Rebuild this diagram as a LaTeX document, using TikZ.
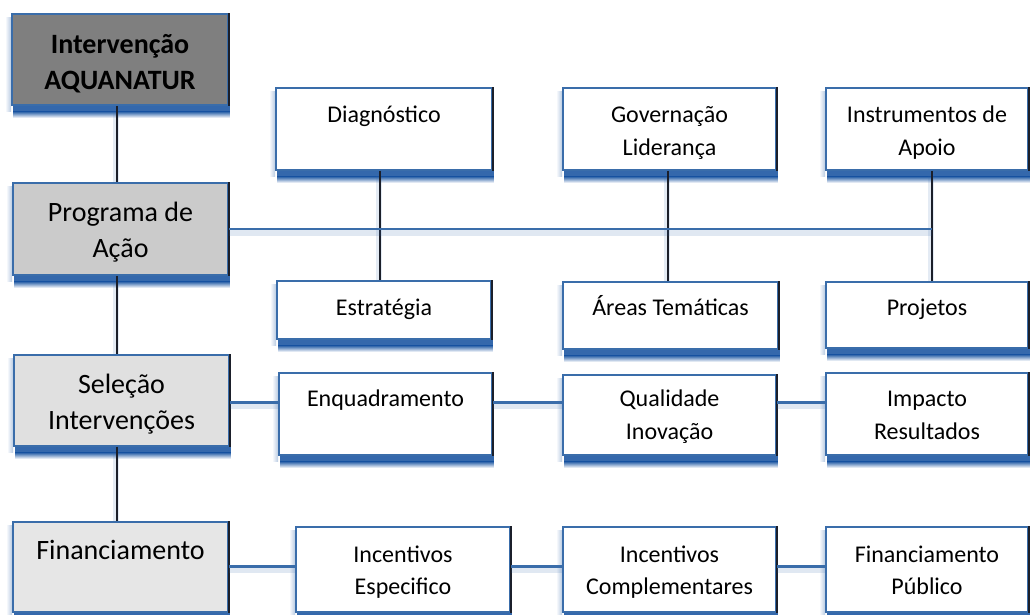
\documentclass[tikz,border=0pt]{standalone}
\usepackage{fontspec}
\setmainfont{Carlito}
\usetikzlibrary{backgrounds}
\definecolor{bblue}{HTML}{3A6DAA}
\definecolor{sblue}{HTML}{3468AC}
\definecolor{darkln}{HTML}{1B1F2A}
\definecolor{gA}{HTML}{7F7F7F}
\definecolor{gB}{HTML}{CBCBCB}
\definecolor{gC}{HTML}{E0E0E0}
\definecolor{gD}{HTML}{E6E6E6}
\begin{document}
\begin{tikzpicture}[x=1pt,y=-1pt,
  box/.style={draw=bblue, line width=1.8pt, fill=white, inner sep=0pt},
  rt/.style={anchor=base, inner sep=0pt, font=\fontsize{24}{33}\selectfont},
  lt/.style={anchor=base, inner sep=0pt, font=\fontsize{28}{36}\selectfont},
  bt/.style={anchor=base, inner sep=0pt, font=\fontsize{28}{36}\selectfont\bfseries},
  vline/.style={draw=darkln, line width=2.4pt,
    preaction={draw=sblue, line width=6pt, opacity=0.13, transform canvas={xshift=-1pt}}},
  hline/.style={draw=bblue, line width=2.4pt,
    preaction={draw=sblue, line width=7pt, opacity=0.15, transform canvas={yshift=-3pt}}}]
\useasboundingbox (0,0) rectangle (1030,615);

% ---------- boxes ----------
\node[box, fill=gA, minimum width=216, minimum height=91] (intv) at (120,59.5) {};
\node[box, fill=gB, minimum width=215, minimum height=92] (prog) at (120.5,229) {};
\node[box, fill=gC, minimum width=215, minimum height=91] (sel) at (121.5,400.5) {};
\node[box, fill=gD, minimum width=215, minimum height=90] (fin) at (120.5,567) {};

\node[box, minimum width=216, minimum height=82] (diag) at (384,129) {};
\node[box, minimum width=213, minimum height=82] (gov) at (669.5,129) {};
\node[box, minimum width=202, minimum height=82] (instr) at (927,129) {};

\node[box, minimum width=214, minimum height=58] (estr) at (384,310) {};
\node[box, minimum width=215, minimum height=67] (areas) at (670.5,315.5) {};
\node[box, minimum width=202, minimum height=66] (proj) at (927,315) {};

\node[box, minimum width=213, minimum height=82] (enq) at (385.5,414) {};
\node[box, minimum width=213, minimum height=80] (qual) at (669.5,415) {};
\node[box, minimum width=202, minimum height=82] (imp) at (927,414) {};

\node[box, minimum width=214, minimum height=85] (incE) at (403,569.5) {};
\node[box, minimum width=213, minimum height=85] (incC) at (669.5,569.5) {};
\node[box, minimum width=202, minimum height=85] (finP) at (927,569.5) {};

% ---------- texts ----------
\node[bt] (intv-a) at (120,53.5) {Intervenção};
\node[bt] (intv-b) at (120,89.5) {AQUANATUR};
\node[lt] (prog-a) at (120.5,221) {Programa de};
\node[lt] (prog-b) at (120.5,257) {Ação};
\node[lt] (sel-a) at (121.5,393.5) {Seleção};
\node[lt] (sel-b) at (121.5,429.5) {Intervenções};
\node[lt] (fin-a) at (120.5,559) {Financiamento};

\node[rt] (diag-a) at (384,122.7) {Diagnóstico};
\node[rt] (gov-a) at (669.5,122.7) {Governação};
\node[rt] (gov-b) at (669.5,155.5) {Liderança};
\node[rt] (instr-a) at (927,123) {Instrumentos de};
\node[rt] (instr-b) at (927,155.5) {Apoio};

\node[rt] (estr-a) at (384,315) {Estratégia};
\node[rt] (areas-a) at (670.5,315) {Áreas Temáticas};
\node[rt] (proj-a) at (927,315) {Projetos};

\node[rt] (enq-a) at (385.5,406.5) {Enquadramento};
\node[rt] (qual-a) at (669.5,406.5) {Qualidade};
\node[rt] (qual-b) at (669.5,439) {Inovação};
\node[rt] (imp-a) at (927,406.5) {Impacto};
\node[rt] (imp-b) at (927,439.5) {Resultados};

\node[rt] (incE-a) at (403,562.3) {Incentivos};
\node[rt] (incE-b) at (403,594.5) {Especifico};
\node[rt] (incC-a) at (669.5,562.3) {Incentivos};
\node[rt] (incC-b) at (669.5,594.5) {Complementares};
\node[rt] (finP-a) at (927,562.3) {Financiamento};
\node[rt] (finP-b) at (927,594.5) {Público};

% ---------- background, shadows ----------
\begin{pgfonlayer}{background}
\fill[white] (0,0) rectangle (1030,615);
\foreach \n in {intv,prog,sel,fin,diag,gov,instr,estr,areas,proj,enq,qual,imp,incE,incC,finP}{
  \shade[left color=white, right color=sblue!35] ([xshift=-6pt,yshift=-4pt]\n.north west) rectangle ([yshift=-6pt]\n.south west);
  \fill[sblue] ([xshift=2pt]\n.south west) rectangle ([xshift=1pt,yshift=-6pt]\n.south east);
  \shade[top color=sblue, bottom color=white] ([xshift=2pt,yshift=-6pt]\n.south west) rectangle ([xshift=1pt,yshift=-12pt]\n.south east);
}
\end{pgfonlayer}
\foreach \n in {intv,prog,sel,fin,diag,gov,instr,estr,areas,proj,enq,qual,imp,incE,incC,finP}{
  \draw[darkln, line width=1.8pt] (\n.north east) -- (\n.south east);
}

% ---------- connectors ----------
\draw[vline] ([xshift=-3pt]intv.south) -- ([xshift=-3.5pt]prog.north);
\draw[vline] ([xshift=-3.5pt]prog.south) -- ([xshift=-4.5pt]sel.north);
\draw[vline] ([xshift=-4.5pt]sel.south) -- ([xshift=-3.5pt]fin.north);

\draw[vline] ([xshift=-4pt]diag.south) -- ([xshift=-4pt]estr.north);
\draw[vline] ([xshift=-1.5pt]gov.south) -- ([xshift=-2.5pt]areas.north);
\draw[vline] ([xshift=5pt]instr.south) -- ([xshift=5pt]proj.north);
\coordinate (j) at (932,229);
\draw[hline] (prog.east) -- (j);

\coordinate (r3) at (0,402.5);
\draw[hline] (r3 -| sel.east) -- (r3 -| enq.west);
\draw[hline] (r3 -| enq.east) -- (r3 -| qual.west);
\draw[hline] (r3 -| qual.east) -- (r3 -| imp.west);

\coordinate (r4) at (0,566.5);
\draw[hline] (r4 -| fin.east) -- (r4 -| incE.west);
\draw[hline] (r4 -| incE.east) -- (r4 -| incC.west);
\draw[hline] (r4 -| incC.east) -- (r4 -| finP.west);
\end{tikzpicture}
\end{document}
